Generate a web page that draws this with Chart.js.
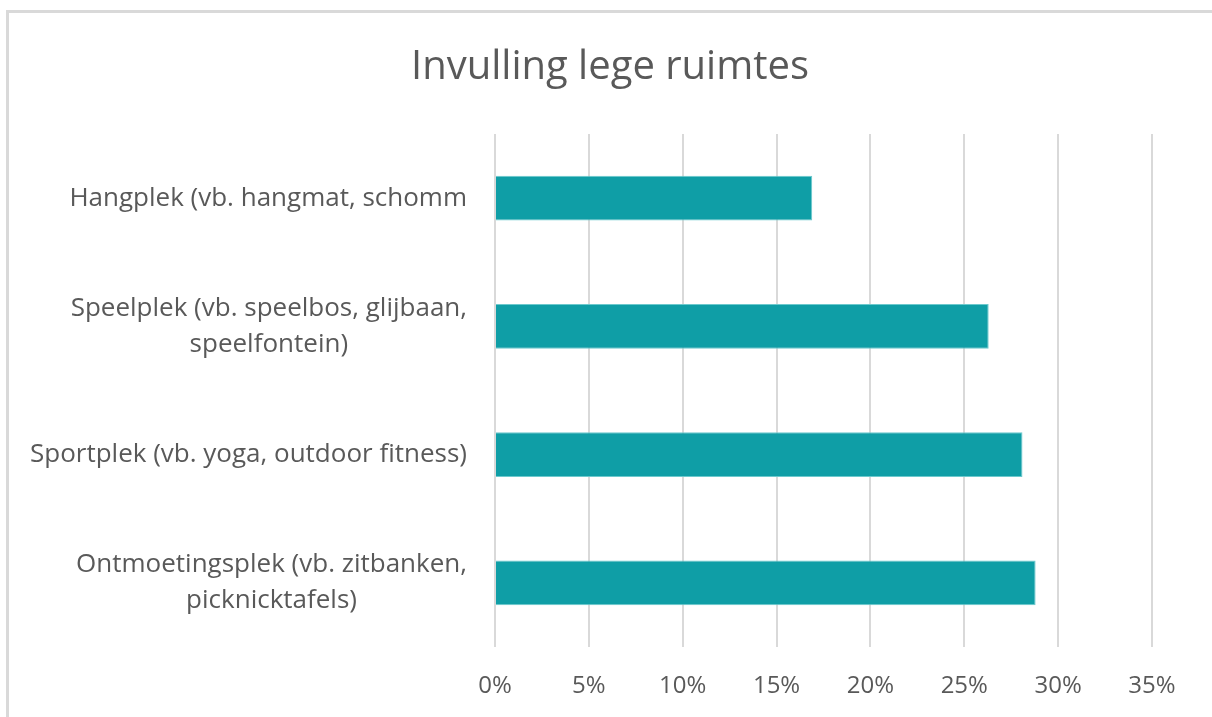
<!DOCTYPE html>
<html>
<head>
<meta charset="utf-8">
<script src="https://cdn.jsdelivr.net/npm/chart.js@4"></script>
<style>
	body { margin: 0; background: #fff; overflow: hidden; }
	#frame {
		position: absolute; left: 6px; top: 10px; width: 1204px; height: 720px;
		border-left: 3px solid #d9d9d9; border-top: 3px solid #d9d9d9; border-right: 1px solid #eeeeee;
	}
	#wrap { position: absolute; left: 0; top: 0; width: 1212px; height: 717px; }
</style>
</head>
<body>
<div id="frame"></div>
<div id="wrap"><canvas id="graph"></canvas></div>
<script>
const title = 'Invulling lege ruimtes';
const categories = [
	["Hangplek (vb. hangmat, schomm"],
	["Speelplek (vb. speelbos, glijbaan,", "speelfontein)"],
	["Sportplek (vb. yoga, outdoor fitness)"],
	["Ontmoetingsplek (vb. zitbanken,", "picknicktafels)"]
];
const shares = [16.9, 26.3, 28.1, 28.8];
const xTicks = [0, 5, 10, 15, 20, 25, 30, 35];

const textColor = '#595959';
const fontName = "'Open Sans', 'Noto Sans', sans-serif";

// title + y labels drawn by hand: title centred on the whole frame,
// label blocks right aligned with lines centred inside them (like Excel)
const textLayer = {
	id: 'textLayer',
	afterDraw(chart) {
		const ctx = chart.ctx;
		const y = chart.scales.y;
		ctx.save();
		ctx.fillStyle = textColor;
		ctx.textBaseline = 'middle';
		ctx.textAlign = 'center';
		ctx.font = "40px " + fontName;
		ctx.fillText(title, 610, 68);

		ctx.font = "26px " + fontName;
		const right = 467;
		const lh = 36;
		categories.forEach(function(lines, i) {
			const cy = y.getPixelForValue(i);
			const w = Math.max.apply(null, lines.map(l => ctx.measureText(l).width));
			const cx = right - w / 2;
			lines.forEach(function(l, j) {
				ctx.fillText(l, cx, cy + (j - (lines.length - 1) / 2) * lh);
			});
		});
		ctx.restore();
	}
};

const ctx = document.getElementById('graph').getContext('2d');

const myChart = new Chart(ctx, {
	type: 'bar',
	data: {
		labels: categories,
		datasets: [{
			data: shares,
			backgroundColor: '#0f9ea6',
			borderColor: '#6cc9cd',
			borderWidth: 1,
			barPercentage: 0.35,
			categoryPercentage: 1
		}]
	},
	options: {
		indexAxis: 'y',
		responsive: true,
		maintainAspectRatio: false,
		animation: false,
		layout: {
			padding: { left: 0, right: 60, top: 134, bottom: 0 }
		},
		plugins: {
			legend: { display: false },
			tooltip: { enabled: false },
			title: { display: false }
		},
		scales: {
			x: {
				min: 0,
				max: 35,
				afterBuildTicks: function(scale) {
					scale.ticks = xTicks.map(v => ({ value: v }));
				},
				afterFit: function(scale) {
					scale.height = 70;
				},
				border: { display: false },
				grid: {
					color: '#d9d9d9',
					lineWidth: 2,
					drawTicks: false
				},
				ticks: {
					padding: 25,
					color: textColor,
					font: { family: fontName, size: 24 },
					callback: function(value) {
						return value + '%';
					}
				}
			},
			y: {
				afterFit: function(scale) {
					scale.width = 495;
				},
				border: { display: false },
				grid: { display: false },
				ticks: { display: false }
			}
		}
	},
	plugins: [textLayer]
});
</script>
</body>
</html>
